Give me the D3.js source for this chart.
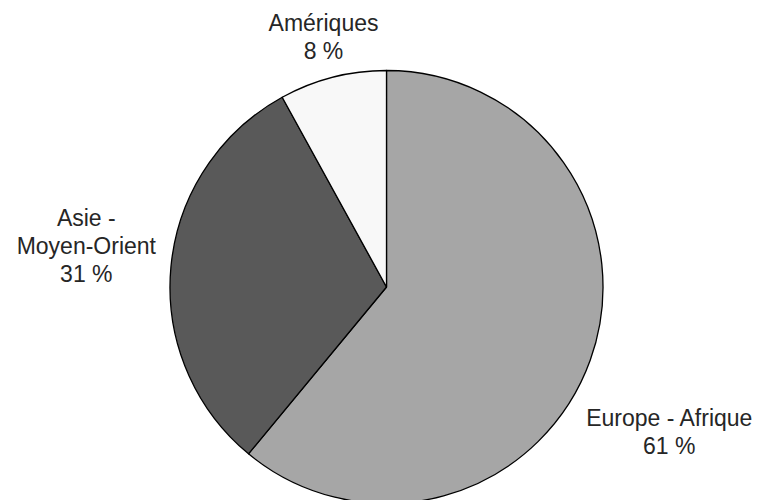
<!DOCTYPE html>
<html>
<head>
<meta charset="utf-8">
<script src="https://cdn.jsdelivr.net/npm/d3@7"></script>
<style>
  body { margin: 0; background: #fff; }
  text { font-family: "Liberation Sans", Arial, sans-serif; }
</style>
</head>
<body>
<div id="chart"></div>
<script>
// chart data
var regions = ['Europe - Afrique', 'Asie -\nMoyen-Orient', 'Amériques'];
var shares = [61, 31, 8];
var colors = ['#a6a6a6', '#595959', '#f8f8f8'];

var width = 758;
var height = 500;
var radius = 216.5;
var cx = 386.5;
var cy = 287;
var fontSize = 23;
var lineHeight = 28;

var dataset = regions.map(function(r, i) {
  return { label: r, count: shares[i], color: colors[i] };
});

var svg = d3.select('#chart')
  .append('svg')
  .attr('width', width)
  .attr('height', height);

var g = svg.append('g')
  .attr('transform', 'translate(' + cx + ',' + cy + ')');

var pie = d3.pie()
  .value(function(d) { return d.count; })
  .sort(null);

var arc = d3.arc()
  .innerRadius(0)
  .outerRadius(radius);

// labels sit outside the pie, a bit further than the rim
var labelArc = d3.arc()
  .innerRadius(radius * 1.3)
  .outerRadius(radius * 1.3);

// small nudges so labels land where the original placed them
var nudges = [[18, 50], [-20, -15], [7, 23]];

var arcs = pie(dataset);

g.selectAll('path')
  .data(arcs)
  .enter()
  .append('path')
  .attr('d', arc)
  .attr('fill', function(d) { return d.data.color; })
  .attr('stroke', '#000')
  .attr('stroke-width', 1.3)
  .attr('stroke-linejoin', 'round');

var labels = g.selectAll('text.lbl')
  .data(arcs)
  .enter()
  .append('text')
  .attr('class', 'lbl')
  .attr('text-anchor', 'middle')
  .attr('font-size', fontSize)
  .attr('fill', '#262626');

labels.each(function(d, i) {
  var c = labelArc.centroid(d);
  var x = c[0] + nudges[i][0];
  var y = c[1] + nudges[i][1];
  var lines = d.data.label.split('\n').concat([d.data.count + ' %']);
  var first = y - (lines.length - 1) * lineHeight / 2 + fontSize * 0.35;
  var t = d3.select(this);
  lines.forEach(function(line, k) {
    t.append('tspan')
      .attr('x', x)
      .attr('y', first + k * lineHeight)
      .text(line);
  });
});
</script>
</body>
</html>
